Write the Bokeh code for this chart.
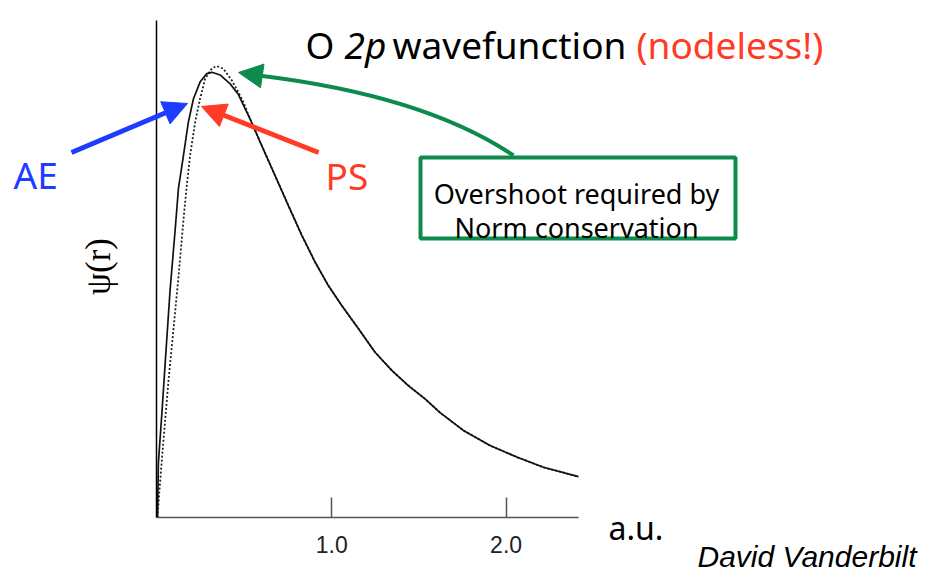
import math
from bokeh.plotting import figure
from bokeh.models import (Range1d, LinearAxis, FixedTicker, PrintfTickFormatter,
                          Label, Arrow, NormalHead, BoxAnnotation)
from bokeh.embed import file_html
from bokeh.resources import INLINE

# ---- data ----
r_ae = [0.0, 0.005, 0.025, 0.044, 0.072, 0.101, 0.120, 0.149, 0.177, 0.206, 0.244,
        0.283, 0.312, 0.359, 0.417, 0.464, 0.531, 0.598, 0.674, 0.751, 0.828, 0.904,
        0.980, 1.057, 1.153, 1.248, 1.344, 1.439, 1.535, 1.621, 1.755, 1.908, 2.061,
        2.214, 2.415]
psi_ae = [0.0, 0.122, 0.234, 0.347, 0.511, 0.646, 0.740, 0.815, 0.890, 0.942, 0.980,
          0.999, 1.002, 0.996, 0.976, 0.952, 0.897, 0.837, 0.770, 0.702, 0.635, 0.575,
          0.522, 0.477, 0.425, 0.372, 0.331, 0.297, 0.267, 0.236, 0.196, 0.162, 0.136,
          0.113, 0.092]

r_ps = [0.0, 0.011, 0.034, 0.063, 0.091, 0.120, 0.149, 0.168, 0.187, 0.216, 0.244,
        0.273, 0.312, 0.340, 0.378, 0.426, 0.464, 0.493, 0.531, 0.598, 0.674, 0.751,
        0.828, 0.904, 0.980, 1.057, 1.153, 1.248, 1.344, 1.439, 1.535, 1.621, 1.755,
        1.908, 2.061, 2.214, 2.415]
psi_ps = [0.0, 0.061, 0.173, 0.308, 0.421, 0.540, 0.670, 0.747, 0.815, 0.890, 0.942,
          0.987, 1.011, 1.016, 1.010, 0.984, 0.957, 0.935, 0.897, 0.837, 0.770, 0.702,
          0.635, 0.575, 0.522, 0.477, 0.425, 0.372, 0.331, 0.297, 0.267, 0.236, 0.196,
          0.162, 0.136, 0.113, 0.092]

tick_values = [1.0, 2.0]
tick_labels = ["1.0", "2.0"]

# ---- pixel -> data helpers for annotation placement ----
X0, XS = 157.0, 174.3
Y0, YS = 517.0, 444.3
def dx(px): return (px - X0) / XS
def dy(py): return (Y0 - py) / YS

W, H = 932, 572
p = figure(width=W, height=H, output_backend="svg", toolbar_location=None,
           x_axis_type=None, y_axis_type=None,
           x_range=Range1d(dx(0), dx(W)), y_range=Range1d(dy(H), dy(0)),
           min_border_left=0, min_border_right=0, min_border_top=0, min_border_bottom=0)
p.outline_line_color = None
p.background_fill_color = "white"
p.border_fill_color = "white"

xaxis = LinearAxis(ticker=FixedTicker(ticks=tick_values),
                   formatter=PrintfTickFormatter(format="%.1f"),
                   major_label_overrides=dict(zip(tick_values, tick_labels)),
                   fixed_location=0.0)
xaxis.bounds = (dx(156), dx(578))
xaxis.axis_line_color = "#555555"
xaxis.axis_line_width = 1.5
xaxis.major_tick_in = 20
xaxis.major_tick_out = 0
xaxis.major_tick_line_color = "#555555"
xaxis.major_tick_line_width = 1.5
xaxis.minor_tick_line_color = None
xaxis.major_label_text_font = "Liberation Sans"
xaxis.major_label_text_font_size = "23px"
xaxis.major_label_text_color = "#222222"
xaxis.major_label_standoff = 18
p.add_layout(xaxis, "below")

yaxis = LinearAxis(ticker=FixedTicker(ticks=[]), fixed_location=dx(156))
yaxis.bounds = (0, dy(20))
yaxis.axis_line_color = "black"
yaxis.axis_line_width = 1.5
yaxis.major_tick_line_color = None
yaxis.minor_tick_line_color = None
yaxis.major_label_text_font_size = "0px"
p.add_layout(yaxis, "left")

# curves
p.line(r_ps, psi_ps, line_color="#222222", line_width=1.8, line_dash="2 2")
p.line(r_ae, psi_ae, line_color="#111111", line_width=1.7)

BLUE = "#1e3cff"
RED = "#ff3b26"
GREEN = "#0c8b4c"
TFONT = "Noto Sans"

# green curved arrow
p.quadratic(x0=dx(513), y0=dy(155), x1=dx(258), y1=dy(75), cx=dx(424), cy=dy(95),
            line_color=GREEN, line_width=4)
p.add_layout(Arrow(end=NormalHead(size=24, fill_color=GREEN, line_color=GREEN),
                   x_start=dx(262), y_start=dy(75.5), x_end=dx(238), y_end=dy(72),
                   line_color=GREEN, line_width=4))

# blue / red arrows
p.add_layout(Arrow(end=NormalHead(size=24, fill_color=BLUE, line_color=BLUE),
                   x_start=dx(71), y_start=dy(152), x_end=dx(187), y_end=dy(103),
                   line_color=BLUE, line_width=5))
p.add_layout(Arrow(end=NormalHead(size=24, fill_color=RED, line_color=RED),
                   x_start=dx(318), y_start=dy(152), x_end=dx(201), y_end=dy(106),
                   line_color=RED, line_width=5))

# box
p.add_layout(BoxAnnotation(left=dx(420), right=dx(735), top=dy(157), bottom=dy(238),
                           fill_color="white", fill_alpha=1.0,
                           line_color=GREEN, line_width=4, line_alpha=1.0))

def lab(text, px, py, size, color="black", font=TFONT, style="normal",
        align="left", baseline="alphabetic", angle=0.0):
    p.add_layout(Label(x=dx(px), y=dy(py), text=text, text_font=font,
                       text_font_size=f"{size}px", text_color=color,
                       text_font_style=style, text_align=align,
                       text_baseline=baseline, angle=angle))

lab("Overshoot required by", 576, 193, 27, align="center")
lab("Norm conservation", 576, 227, 27, align="center")

# title pieces
lab("O", 305, 44, 37)
lab("2p", 344, 44, 37, style="italic")
lab("wavefunction", 392, 44, 37)
lab("(nodeless!)", 636, 44, 37, color=RED)

lab("AE", 13, 174, 37, color=BLUE)
lab("PS", 325, 175, 37, color=RED)
lab("a.u.", 608, 527, 32)
lab("ψ(r)", 98, 266, 35, font="Liberation Serif", align="center",
    baseline="middle", angle=math.pi / 2)
lab("David Vanderbilt", 697, 556, 30, font="Liberation Sans", style="italic")

open("out.html", "w").write(file_html(p, INLINE))
